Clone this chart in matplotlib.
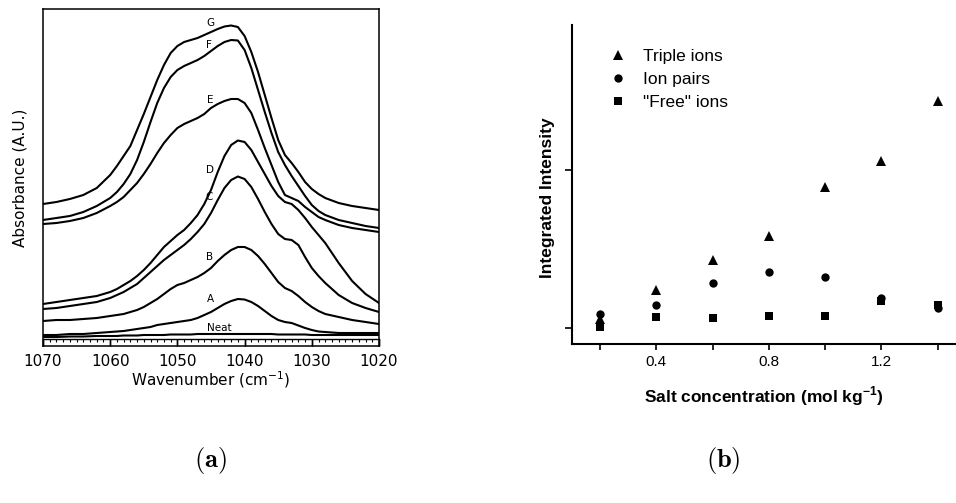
import matplotlib
matplotlib.use("Agg")
import matplotlib.pyplot as plt
from matplotlib.ticker import MultipleLocator, FixedLocator, NullFormatter

# ---- (a) FTIR spectra, 1070-1020 cm-1 ----
wavenumber = [1070, 1068, 1066, 1064, 1062,
              1060, 1059, 1058, 1057, 1056, 1055, 1054, 1053, 1052, 1051,
              1050, 1049, 1048, 1047, 1046, 1045, 1044, 1043, 1042, 1041,
              1040, 1039, 1038, 1037, 1036, 1035, 1034, 1033, 1032, 1031,
              1030, 1029, 1028,
              1026, 1024, 1022, 1020]

abs_neat = [0.09, 0.09, 0.095, 0.095, 0.10,
            0.10, 0.10, 0.105, 0.105, 0.105, 0.11, 0.11, 0.11, 0.11, 0.115,
            0.115, 0.115, 0.115, 0.12, 0.12, 0.12, 0.12, 0.12, 0.12, 0.12,
            0.12, 0.12, 0.12, 0.12, 0.12, 0.115, 0.115, 0.115, 0.115, 0.115,
            0.11, 0.11, 0.11,
            0.11, 0.11, 0.11, 0.11]
abs_a = [0.11, 0.11, 0.12, 0.12, 0.13,
         0.14, 0.145, 0.15, 0.16, 0.17, 0.18, 0.19, 0.21, 0.22, 0.23,
         0.24, 0.25, 0.26, 0.28, 0.31, 0.34, 0.38, 0.42, 0.45, 0.47,
         0.465, 0.44, 0.40, 0.35, 0.30, 0.26, 0.24, 0.23, 0.205, 0.18,
         0.16, 0.145, 0.14,
         0.13, 0.13, 0.13, 0.13]
abs_b = [0.25, 0.26, 0.26, 0.27, 0.28,
         0.30, 0.31, 0.32, 0.34, 0.36, 0.39, 0.43, 0.47, 0.52, 0.57,
         0.61, 0.63, 0.66, 0.69, 0.73, 0.78, 0.85, 0.91, 0.96, 0.99,
         0.99, 0.96, 0.90, 0.82, 0.73, 0.64, 0.58, 0.55, 0.50, 0.44,
         0.39, 0.35, 0.32,
         0.29, 0.26, 0.24, 0.22]
abs_c = [0.37, 0.38, 0.40, 0.42, 0.44,
         0.48, 0.51, 0.54, 0.58, 0.62, 0.68, 0.74, 0.80, 0.86, 0.91,
         0.96, 1.01, 1.07, 1.14, 1.22, 1.33, 1.46, 1.58, 1.66, 1.695,
         1.67, 1.59, 1.47, 1.34, 1.22, 1.12, 1.07, 1.06, 1.01, 0.89,
         0.78, 0.70, 0.63,
         0.51, 0.43, 0.38, 0.34]
abs_d = [0.42, 0.44, 0.46, 0.48, 0.50,
         0.54, 0.57, 0.61, 0.65, 0.70, 0.76, 0.83, 0.91, 0.99, 1.05,
         1.11, 1.16, 1.23, 1.31, 1.42, 1.56, 1.74, 1.90, 2.01, 2.055,
         2.04, 1.96, 1.84, 1.72, 1.60, 1.50, 1.44, 1.42, 1.36, 1.28,
         1.19, 1.11, 1.03,
         0.83, 0.65, 0.52, 0.43]
abs_e = [1.22, 1.23, 1.25, 1.28, 1.33,
         1.40, 1.44, 1.49, 1.56, 1.63, 1.72, 1.82, 1.93, 2.03, 2.11,
         2.18, 2.22, 2.25, 2.28, 2.32, 2.38, 2.42, 2.45, 2.47, 2.47,
         2.43, 2.33, 2.16, 1.98, 1.81, 1.64, 1.51, 1.48, 1.45, 1.39,
         1.34, 1.29, 1.26,
         1.21, 1.18, 1.16, 1.14]
abs_f = [1.26, 1.28, 1.30, 1.34, 1.40,
         1.48, 1.54, 1.62, 1.72, 1.86, 2.04, 2.24, 2.43, 2.58, 2.69,
         2.76, 2.80, 2.83, 2.86, 2.90, 2.95, 3.00, 3.04, 3.06, 3.055,
         2.96, 2.78, 2.56, 2.34, 2.13, 1.94, 1.81, 1.70, 1.60, 1.50,
         1.41, 1.35, 1.31,
         1.26, 1.23, 1.20, 1.18]
abs_g = [1.42, 1.44, 1.47, 1.51, 1.58,
         1.71, 1.80, 1.90, 2.00, 2.16, 2.32, 2.49, 2.66, 2.81, 2.93,
         3.00, 3.04, 3.06, 3.08, 3.11, 3.14, 3.17, 3.195, 3.205, 3.19,
         3.10, 2.94, 2.74, 2.51, 2.28, 2.06, 1.91, 1.83, 1.74, 1.64,
         1.57, 1.52, 1.48,
         1.43, 1.40, 1.38, 1.36]

spectrum_names = ["Neat", "A", "B", "C", "D", "E", "F", "G"]
spectra = [abs_neat, abs_a, abs_b, abs_c, abs_d, abs_e, abs_f, abs_g]
# where each trace is tagged (wavenumber, absorbance)
tag_x = [1043.7, 1045.15, 1045.15, 1045.3, 1045.15, 1045.15, 1045.3, 1045.15]
tag_y = [0.18, 0.47, 0.89, 1.49, 1.76, 2.46, 3.01, 3.23]

# ---- (b) integrated band intensities vs salt concentration ----
conc = [0.2, 0.4, 0.6, 0.8, 1.0, 1.2, 1.4]
triple_ions = [0.06, 0.24, 0.43, 0.58, 0.89, 1.06, 1.44]
ion_pairs = [0.087, 0.146, 0.283, 0.356, 0.321, 0.188, 0.125]
free_ions = [0.004, 0.072, 0.065, 0.076, 0.076, 0.171, 0.146]

plt.rcParams["mathtext.fontset"] = "custom"
plt.rcParams["mathtext.rm"] = "Liberation Sans"
plt.rcParams["mathtext.bf"] = "Liberation Sans:bold"

W, H = 956, 503
fig = plt.figure(figsize=(W / 100, H / 100), dpi=100)

# panel (a)
axa = fig.add_axes([43 / W, 1 - 346 / H, 336 / W, 337 / H])
for name, ys in zip(spectrum_names, spectra):
    axa.plot(wavenumber, ys, color="black", lw=1.5, solid_joinstyle="round")
for name, x, y in zip(spectrum_names, tag_x, tag_y):
    axa.text(x, y, name, fontsize=7.5, ha="center", va="center",
             family="DejaVu Sans")
axa.set_xlim(1070, 1020)
axa.set_ylim(0, 3.37)
axa.set_yticks([])
axa.xaxis.set_major_locator(MultipleLocator(10))
axa.tick_params(axis="x", which="major", direction="in", length=4.8,
                width=1.0, labelsize=11, pad=6)
for sp in axa.spines.values():
    sp.set_linewidth(1.1)
# inner tick strip with the 1 cm-1 minor ticks
strip = axa.secondary_xaxis(0.0208)
strip.spines["bottom"].set_linewidth(1.0)
strip.xaxis.set_major_locator(MultipleLocator(10))
strip.xaxis.set_minor_locator(MultipleLocator(1))
strip.xaxis.set_major_formatter(NullFormatter())
strip.tick_params(which="major", direction="out", length=4.8, width=1.0)
strip.tick_params(which="minor", direction="out", length=2.2, width=0.8)
for lbl in axa.get_xticklabels():
    lbl.set_family("DejaVu Sans")
axa.set_xlabel(r"Wavenumber (cm$^{-1}$)", fontsize=11, family="DejaVu Sans",
               math_fontfamily="dejavusans", labelpad=0)
axa.set_ylabel("Absorbance (A.U.)", fontsize=11, family="DejaVu Sans",
               labelpad=11)

# panel (b)
axb = fig.add_axes([572 / W, 1 - 344 / H, (W - 572) / W, 319 / H])
axb.plot(conc, triple_ions, ls="none", marker="^", ms=7.5, mew=0,
         color="black", label="Triple ions")
axb.plot(conc, ion_pairs, ls="none", marker="o", ms=6.0, mew=0,
         color="black", label="Ion pairs")
axb.plot(conc, free_ions, ls="none", marker="s", ms=5.5, mew=0,
         color="black", label='"Free" ions')
axb.set_xlim(0.1, 1.465)
axb.set_ylim(-0.101, 1.918)
axb.spines["top"].set_visible(False)
axb.spines["right"].set_visible(False)
axb.spines["left"].set_linewidth(1.5)
axb.spines["bottom"].set_linewidth(1.5)
axb.xaxis.set_major_locator(FixedLocator([0.4, 0.8, 1.2]))
axb.xaxis.set_minor_locator(FixedLocator([0.2, 0.6, 1.0, 1.4]))
axb.set_yticks([0, 1])
axb.set_yticklabels([])
axb.tick_params(axis="x", which="both", direction="out", length=4, width=1.2,
                labelsize=11, pad=4)
axb.tick_params(axis="y", direction="out", length=5, width=1.2)
for lbl in axb.get_xticklabels():
    lbl.set_family("Liberation Sans")
axb.set_xlabel(r"Salt concentration (mol kg$^{\mathbf{-1}}$)", fontsize=12.5,
               family="Liberation Sans", fontweight="bold", labelpad=11)
axb.set_ylabel("Integrated Intensity", fontsize=12.5, family="Liberation Sans",
               fontweight="bold")
axb.yaxis.set_label_coords(-0.045, 0.458)
axb.legend(loc="upper left", bbox_to_anchor=(0.097, 0.924), frameon=False,
           prop={"family": "Liberation Sans", "size": 12.5}, handlelength=1.0,
           handletextpad=0.94, labelspacing=0.44, borderpad=0, borderaxespad=0)

# panel tags
fig.text(210 / W, 1 - 460 / H, r"$\mathbf{(a)}$", fontsize=19, ha="center",
         va="center", math_fontfamily="cm")
fig.text(723 / W, 1 - 460 / H, r"$\mathbf{(b)}$", fontsize=19, ha="center",
         va="center", math_fontfamily="cm")

fig.savefig("out.png", dpi=100)
